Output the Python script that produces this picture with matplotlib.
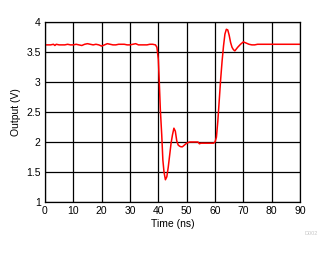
import matplotlib.pyplot as plt
import numpy as np

plt.rcParams['font.family'] = ['Liberation Sans', 'DejaVu Sans']

time_ns = [0, 1, 2, 3, 3.5, 4, 5, 6, 7, 8, 9, 10, 11, 12, 13, 14, 15, 16, 17, 18, 19, 20, 21, 22,
           23, 24, 25, 26, 27, 28, 29, 30, 31, 32, 33, 34, 35, 36, 37, 38, 39, 39.5,
           40, 40.3, 40.7, 41.2, 41.6, 42.0, 42.5, 43.0, 43.5, 44.0, 44.5, 45.0, 45.5, 46.0,
           46.5, 47.0, 47.5, 48.0, 48.5, 49.0, 49.5, 50.0, 50.5, 51, 52, 53, 54, 54.5, 55,
           56, 57, 58, 59, 59.5, 60.0, 60.5, 61.0, 61.5, 62.0, 62.5, 63.0, 63.5, 64.0, 64.5,
           65.0, 65.5, 66.0, 66.5, 67.0, 67.5, 68.0, 69.0, 70.0, 71.0, 72.0, 73.0, 74.0,
           75, 80, 85, 90]
output_v = [3.62, 3.62, 3.62, 3.63, 3.61, 3.63, 3.62, 3.62, 3.62, 3.63, 3.62, 3.62, 3.63, 3.62,
            3.61, 3.63, 3.64, 3.63, 3.62, 3.63, 3.62, 3.60, 3.62, 3.64, 3.63, 3.62, 3.62, 3.63,
            3.63, 3.63, 3.62, 3.62, 3.63, 3.64, 3.62, 3.62, 3.62, 3.62, 3.63, 3.63, 3.62, 3.58,
            3.38, 3.05, 2.55, 2.12, 1.70, 1.50, 1.37, 1.42, 1.58, 1.78, 1.98, 2.12, 2.23, 2.18,
            2.02, 1.95, 1.93, 1.92, 1.92, 1.94, 1.96, 1.98, 1.99, 2.00, 2.00, 2.00, 2.00, 1.97,
            1.98, 1.98, 1.98, 1.98, 1.98, 1.98, 2.00, 2.08, 2.35, 2.70, 3.05, 3.35, 3.60, 3.80,
            3.88, 3.87, 3.78, 3.66, 3.58, 3.54, 3.52, 3.55, 3.58, 3.63, 3.67, 3.65, 3.63, 3.62,
            3.62, 3.63, 3.63, 3.63, 3.63]

fig = plt.figure(figsize=(3.33, 2.54), dpi=100)
ax = fig.add_axes([0.135, 0.205, 0.766, 0.708])
ax.plot(time_ns, output_v, color='red', linewidth=1.1)

ax.set_xlim(0, 90)
ax.set_ylim(1, 4)
ax.set_xticks(np.arange(0, 91, 10))
ax.set_yticks([1, 1.5, 2, 2.5, 3, 3.5, 4])
ax.set_yticklabels(['1', '1.5', '2', '2.5', '3', '3.5', '4'])
ax.grid(True, color='black', linewidth=0.9)
ax.set_axisbelow(True)
ax.tick_params(length=0, labelsize=7.5, pad=3)
for s in ax.spines.values():
    s.set_linewidth(0.9)

ax.set_xlabel('Time (ns)', fontsize=7.5, labelpad=2)
ax.set_ylabel('Output (V)', fontsize=7.5, labelpad=4)
fig.text(0.935, 0.075, 'D002', fontsize=4, color='#c8c8c8', ha='center')

fig.savefig('out.png', dpi=100)
